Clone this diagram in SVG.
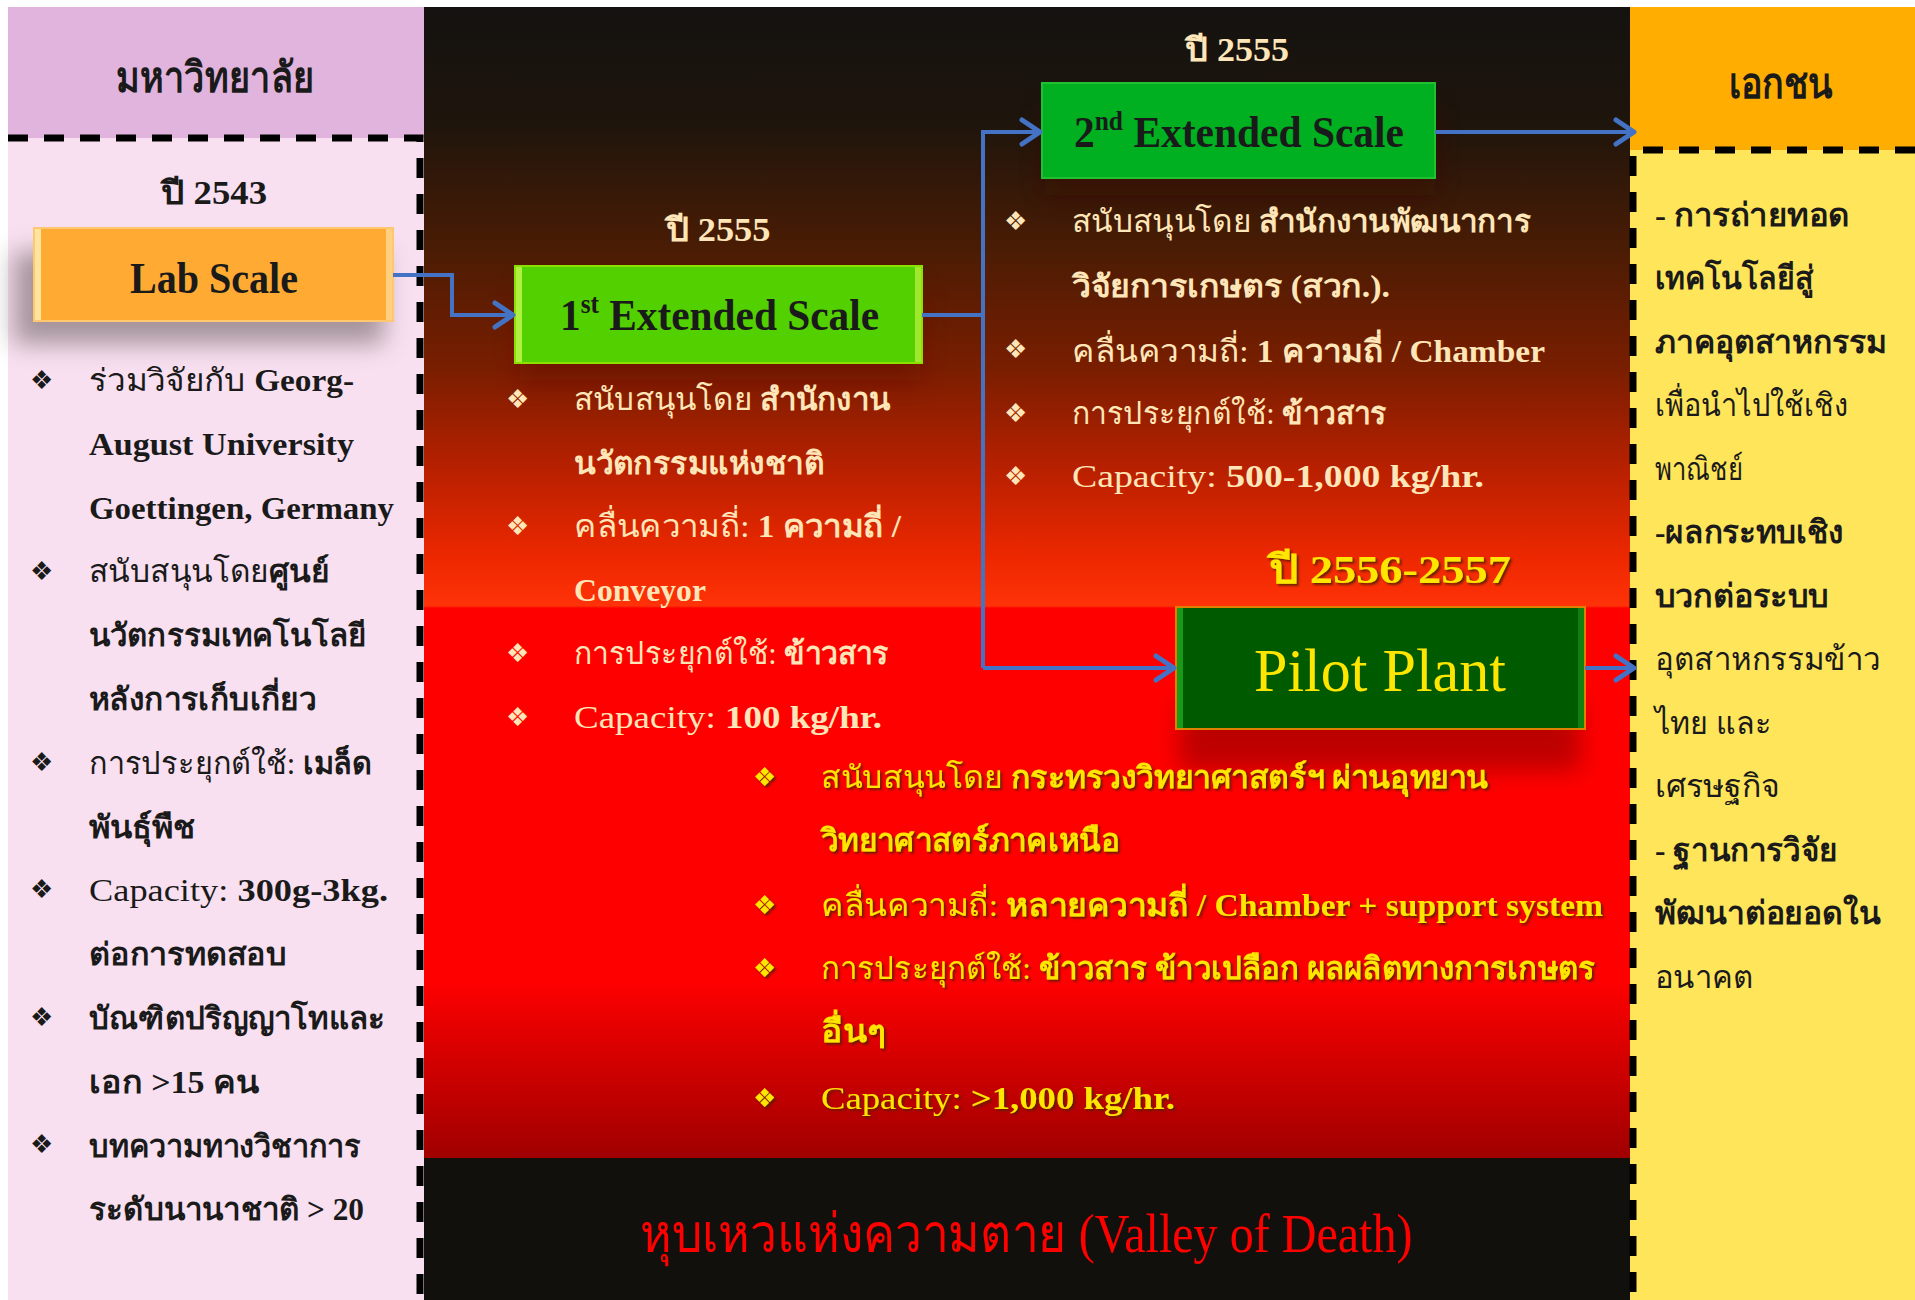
<svg xmlns="http://www.w3.org/2000/svg" width="1915" height="1300" viewBox="0 0 1915 1300">
<style>
.t{font-family:"Liberation Serif","DejaVu Serif","Noto Sans",serif;}
.b{font-weight:bold;}
.dk{fill:#1a1a1a;}
.cr{fill:#FFE6B8;}
.yl{fill:#FFE600;}
.bul{font-family:"DejaVu Sans",sans-serif;font-size:26px;}
.bl{font-size:31px;}
.dash{stroke:#000;stroke-width:7;fill:none;stroke-dasharray:20 16;}
.conn{stroke:#4472C4;stroke-width:4;fill:none;}
</style>
<defs>
<linearGradient id="mid" gradientUnits="userSpaceOnUse" x1="0" y1="7" x2="0" y2="1158">
<stop offset="0" stop-color="#141210"/>
<stop offset="0.1" stop-color="#1E150C"/>
<stop offset="0.21" stop-color="#4A1C04"/>
<stop offset="0.315" stop-color="#7A1E00"/>
<stop offset="0.402" stop-color="#B82000"/>
<stop offset="0.48" stop-color="#EE2800"/>
<stop offset="0.5204" stop-color="#FF3208"/>
<stop offset="0.5222" stop-color="#FF0000"/>
<stop offset="0.845" stop-color="#FF0000"/>
<stop offset="0.92" stop-color="#D00000"/>
<stop offset="1" stop-color="#A00000"/>
</linearGradient>
<filter id="blur" x="-30%" y="-50%" width="160%" height="200%"><feGaussianBlur stdDeviation="12"/></filter>
<filter id="tsh" x="-5%" y="-20%" width="110%" height="140%"><feDropShadow dx="2" dy="2" stdDeviation="1" flood-color="#5a1a00" flood-opacity="0.9"/></filter>
<marker id="arr" markerUnits="userSpaceOnUse" markerWidth="26" markerHeight="30" refX="22" refY="15" orient="auto" viewBox="0 0 26 30">
<path d="M4,3 L22,15 L4,27" fill="none" stroke="#4472C4" stroke-width="5" stroke-linecap="round" stroke-linejoin="round"/>
</marker>
</defs>

<rect x="0" y="0" width="1915" height="1300" fill="#ffffff"/>

<g id="panel-university">
<rect x="8" y="7" width="418" height="131" fill="#E0B4DC"/>
<rect x="8" y="138" width="418" height="1162" fill="#F8E0F0"/>
<text class="t b dk" x="215" y="92" font-size="42" text-anchor="middle" textLength="199" lengthAdjust="spacingAndGlyphs">มหาวิทยาลัย</text>
</g>

<g id="panel-valley">
<rect x="424" y="7" width="1206" height="1151" fill="url(#mid)"/>
<rect x="424" y="1158" width="1206" height="142" fill="#12100C"/>
<text class="t" x="1026" y="1252" font-size="54" fill="#FF0000" text-anchor="middle" textLength="773" lengthAdjust="spacingAndGlyphs">หุบเหวแห่งความตาย (Valley of Death)</text>
</g>

<g id="panel-private">
<rect x="1630" y="7" width="285" height="143" fill="#FFAD00"/>
<rect x="1630" y="150" width="285" height="1150" fill="#FFE55A"/>
<text class="t b dk" x="1781" y="98" font-size="42" text-anchor="middle" textLength="104" lengthAdjust="spacingAndGlyphs">เอกชน</text>
<g class="t dk" font-size="32">
<text x="1655" y="226" class="b" textLength="195" lengthAdjust="spacingAndGlyphs">- การถ่ายทอด</text>
<text x="1655" y="289" class="b" textLength="159" lengthAdjust="spacingAndGlyphs">เทคโนโลยีสู่</text>
<text x="1655" y="353" class="b" textLength="232" lengthAdjust="spacingAndGlyphs">ภาคอุตสาหกรรม</text>
<text x="1655" y="416" textLength="193" lengthAdjust="spacingAndGlyphs">เพื่อนำไปใช้เชิง</text>
<text x="1655" y="480" textLength="88" lengthAdjust="spacingAndGlyphs">พาณิชย์</text>
<text x="1655" y="543" class="b" textLength="189" lengthAdjust="spacingAndGlyphs">-ผลกระทบเชิง</text>
<text x="1655" y="607" class="b" textLength="173" lengthAdjust="spacingAndGlyphs">บวกต่อระบบ</text>
<text x="1655" y="670" textLength="226" lengthAdjust="spacingAndGlyphs">อุตสาหกรรมข้าว</text>
<text x="1655" y="734" textLength="116" lengthAdjust="spacingAndGlyphs">ไทย และ</text>
<text x="1655" y="797" textLength="125" lengthAdjust="spacingAndGlyphs">เศรษฐกิจ</text>
<text x="1655" y="861" class="b" textLength="183" lengthAdjust="spacingAndGlyphs">- ฐานการวิจัย</text>
<text x="1655" y="924" class="b" textLength="226" lengthAdjust="spacingAndGlyphs">พัฒนาต่อยอดใน</text>
<text x="1655" y="988" textLength="98" lengthAdjust="spacingAndGlyphs">อนาคต</text>
</g>
</g>

<g id="dividers">
<path class="dash" d="M8,138 H420 V1300"/>
<path class="dash" d="M1915,150 H1633 V1300"/>
</g>

<g id="node-lab">
<rect x="14" y="252" width="370" height="92" fill="#8a7a80" opacity="0.75" filter="url(#blur)"/>
<rect x="34" y="228" width="359" height="93" fill="#FFAA33" stroke="#FFC870" stroke-width="2"/>
<rect x="35" y="229" width="6" height="91" fill="#FFE4A0"/>
<rect x="386" y="229" width="6" height="91" fill="#FFD080"/>
<text class="t b dk" x="214" y="204" font-size="33" text-anchor="middle" textLength="106" lengthAdjust="spacingAndGlyphs">ปี 2543</text>
<text class="t b dk" x="214" y="293" font-size="44" text-anchor="middle" textLength="168" lengthAdjust="spacingAndGlyphs">Lab Scale</text>
<g class="dk">
<text class="bul" x="30" y="389">❖</text>
<text class="bul" x="30" y="580">❖</text>
<text class="bul" x="30" y="771">❖</text>
<text class="bul" x="30" y="898">❖</text>
<text class="bul" x="30" y="1026">❖</text>
<text class="bul" x="30" y="1153">❖</text>
</g>
<g class="t dk bl">
<text x="89" y="391" textLength="265" lengthAdjust="spacingAndGlyphs">ร่วมวิจัยกับ <tspan class="b">Georg-</tspan></text>
<text x="89" y="455" class="b" textLength="265" lengthAdjust="spacingAndGlyphs">August University</text>
<text x="89" y="519" class="b" textLength="305" lengthAdjust="spacingAndGlyphs">Goettingen, Germany</text>
<text x="89" y="582" textLength="240" lengthAdjust="spacingAndGlyphs">สนับสนุนโดย<tspan class="b">ศูนย์</tspan></text>
<text x="89" y="646" class="b" textLength="277" lengthAdjust="spacingAndGlyphs">นวัตกรรมเทคโนโลยี</text>
<text x="89" y="710" class="b" textLength="227" lengthAdjust="spacingAndGlyphs">หลังการเก็บเกี่ยว</text>
<text x="89" y="774" textLength="283" lengthAdjust="spacingAndGlyphs">การประยุกต์ใช้: <tspan class="b">เมล็ด</tspan></text>
<text x="89" y="838" class="b" textLength="106" lengthAdjust="spacingAndGlyphs">พันธุ์พืช</text>
<text x="89" y="901" textLength="299" lengthAdjust="spacingAndGlyphs">Capacity: <tspan class="b">300g-3kg.</tspan></text>
<text x="89" y="965" class="b" textLength="198" lengthAdjust="spacingAndGlyphs">ต่อการทดสอบ</text>
<text x="89" y="1029" class="b" textLength="296" lengthAdjust="spacingAndGlyphs">บัณฑิตปริญญาโทและ</text>
<text x="89" y="1093" class="b" textLength="170" lengthAdjust="spacingAndGlyphs">เอก &gt;15 คน</text>
<text x="89" y="1157" class="b" textLength="272" lengthAdjust="spacingAndGlyphs">บทความทางวิชาการ</text>
<text x="89" y="1220" class="b" textLength="275" lengthAdjust="spacingAndGlyphs">ระดับนานาชาติ &gt; 20</text>
</g>
</g>

<g id="node-ext1">
<rect x="520" y="290" width="400" height="90" fill="#6a1000" opacity="0.6" filter="url(#blur)"/>
<rect x="515" y="266" width="407" height="97" fill="#52D000" stroke="#8AE000" stroke-width="2"/>
<rect x="516" y="267" width="6" height="95" fill="#B0F040"/>
<rect x="915" y="267" width="6" height="95" fill="#A0E830"/>
<text class="t b cr" x="718" y="241" font-size="33" text-anchor="middle" textLength="105" lengthAdjust="spacingAndGlyphs">ปี 2555</text>
<text class="t b dk" x="560" y="330" font-size="44" textLength="319" lengthAdjust="spacingAndGlyphs">1<tspan font-size="27" dy="-17">st</tspan><tspan dy="17"> Extended Scale</tspan></text>
<g class="cr">
<text class="bul" x="506" y="408">❖</text>
<text class="bul" x="506" y="535">❖</text>
<text class="bul" x="506" y="662">❖</text>
<text class="bul" x="506" y="726">❖</text>
</g>
<g class="t cr bl">
<text x="574" y="410" textLength="316" lengthAdjust="spacingAndGlyphs">สนับสนุนโดย <tspan class="b">สำนักงาน</tspan></text>
<text x="574" y="474" class="b" textLength="250" lengthAdjust="spacingAndGlyphs">นวัตกรรมแห่งชาติ</text>
<text x="574" y="537" textLength="327" lengthAdjust="spacingAndGlyphs">คลื่นความถี่: <tspan class="b">1 ความถี่ /</tspan></text>
<text x="574" y="601" class="b" textLength="132" lengthAdjust="spacingAndGlyphs">Conveyor</text>
<text x="574" y="664" textLength="315" lengthAdjust="spacingAndGlyphs">การประยุกต์ใช้: <tspan class="b">ข้าวสาร</tspan></text>
<text x="574" y="728" textLength="308" lengthAdjust="spacingAndGlyphs">Capacity: <tspan class="b">100 kg/hr.</tspan></text>
</g>
</g>

<g id="node-ext2">
<rect x="1045" y="110" width="390" height="85" fill="#3a0800" opacity="0.6" filter="url(#blur)"/>
<rect x="1042" y="83" width="393" height="95" fill="#00B020" stroke="#20C030" stroke-width="2"/>
<text class="t b cr" x="1237" y="61" font-size="33" text-anchor="middle" textLength="104" lengthAdjust="spacingAndGlyphs">ปี 2555</text>
<text class="t b dk" x="1074" y="147" font-size="44" textLength="330" lengthAdjust="spacingAndGlyphs">2<tspan font-size="27" dy="-17">nd</tspan><tspan dy="17"> Extended Scale</tspan></text>
<g class="cr">
<text class="bul" x="1004" y="230">❖</text>
<text class="bul" x="1004" y="358">❖</text>
<text class="bul" x="1004" y="422">❖</text>
<text class="bul" x="1004" y="485">❖</text>
</g>
<g class="t cr bl">
<text x="1072" y="232" textLength="459" lengthAdjust="spacingAndGlyphs">สนับสนุนโดย <tspan class="b">สำนักงานพัฒนาการ</tspan></text>
<text x="1072" y="297" class="b" textLength="318" lengthAdjust="spacingAndGlyphs">วิจัยการเกษตร (สวก.).</text>
<text x="1072" y="362" textLength="473" lengthAdjust="spacingAndGlyphs">คลื่นความถี่: <tspan class="b">1 ความถี่ / Chamber</tspan></text>
<text x="1072" y="424" textLength="315" lengthAdjust="spacingAndGlyphs">การประยุกต์ใช้: <tspan class="b">ข้าวสาร</tspan></text>
<text x="1072" y="487" textLength="412" lengthAdjust="spacingAndGlyphs">Capacity: <tspan class="b">500-1,000 kg/hr.</tspan></text>
</g>
</g>

<g id="node-pilot">
<rect x="1180" y="700" width="400" height="70" fill="#A00000" opacity="0.7" filter="url(#blur)"/>
<rect x="1176" y="607" width="409" height="122" fill="#005A00" stroke="#E08000" stroke-width="2"/>
<rect x="1177" y="608" width="6" height="120" fill="#1A9A1A"/>
<rect x="1578" y="608" width="6" height="120" fill="#108010"/>
<text class="t b yl" x="1390" y="583" font-size="40" text-anchor="middle" filter="url(#tsh)" textLength="242" lengthAdjust="spacingAndGlyphs">ปี 2556-2557</text>
<text class="t yl" x="1380" y="691" font-size="62" text-anchor="middle" textLength="252" lengthAdjust="spacingAndGlyphs">Pilot Plant</text>
<g class="yl" filter="url(#tsh)">
<text class="bul" x="753" y="786">❖</text>
<text class="bul" x="753" y="914">❖</text>
<text class="bul" x="753" y="977">❖</text>
<text class="bul" x="753" y="1107">❖</text>
</g>
<g class="t yl bl" filter="url(#tsh)">
<text x="821" y="788" textLength="667" lengthAdjust="spacingAndGlyphs">สนับสนุนโดย <tspan class="b">กระทรวงวิทยาศาสตร์ฯ ผ่านอุทยาน</tspan></text>
<text x="821" y="851" class="b" textLength="299" lengthAdjust="spacingAndGlyphs">วิทยาศาสตร์ภาคเหนือ</text>
<text x="821" y="916" textLength="782" lengthAdjust="spacingAndGlyphs">คลื่นความถี่: <tspan class="b">หลายความถี่ / Chamber + support system</tspan></text>
<text x="821" y="979" textLength="774" lengthAdjust="spacingAndGlyphs">การประยุกต์ใช้: <tspan class="b">ข้าวสาร ข้าวเปลือก ผลผลิตทางการเกษตร</tspan></text>
<text x="821" y="1042" class="b" textLength="65" lengthAdjust="spacingAndGlyphs">อื่นๆ</text>
<text x="821" y="1109" textLength="354" lengthAdjust="spacingAndGlyphs">Capacity: <tspan class="b">&gt;1,000 kg/hr.</tspan></text>
</g>
</g>

<g id="connectors">
<path class="conn" d="M393,275 H452 V315 H513" marker-end="url(#arr)"/>
<path class="conn" d="M922,315 H983"/>
<path class="conn" d="M983,668 V132 H1040" marker-end="url(#arr)"/>
<path class="conn" d="M983,668 H1174" marker-end="url(#arr)"/>
<path class="conn" d="M1435,132 H1634" marker-end="url(#arr)"/>
<path class="conn" d="M1585,668 H1634" marker-end="url(#arr)"/>
</g>
</svg>
